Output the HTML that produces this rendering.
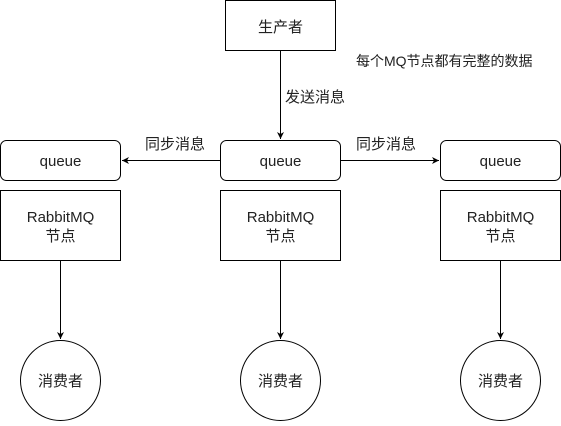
<!DOCTYPE html><html><head><style>body{margin:0;background:#fff}svg text{font-family:"Liberation Sans","Noto Sans CJK SC",sans-serif;font-size:15px;fill:#222}</style></head><body>
<svg width="561" height="421" xmlns="http://www.w3.org/2000/svg">
<defs><marker id="a" markerWidth="8" markerHeight="8" refX="7" refY="4" orient="auto" markerUnits="userSpaceOnUse"><path d="M0,0.5 L7,4 L0,7.5 L2,4 Z" fill="#000"/></marker></defs>
<g fill="none" stroke="#000" stroke-width="1">
<rect x="225.5" y="0.5" width="110" height="50"/>
<rect x="0.5" y="140.5" width="120" height="40" rx="6"/>
<rect x="220.5" y="140.5" width="120" height="40" rx="6"/>
<rect x="440.5" y="140.5" width="120" height="40" rx="6"/>
<rect x="0.5" y="190.5" width="120" height="70"/>
<rect x="220.5" y="190.5" width="120" height="70"/>
<rect x="440.5" y="190.5" width="120" height="70"/>
<circle cx="60.5" cy="380.5" r="40"/>
<circle cx="280.5" cy="380.5" r="40"/>
<circle cx="500.5" cy="380.5" r="40"/>
<line x1="280.5" y1="51" x2="280.5" y2="139" marker-end="url(#a)"/>
<line x1="220" y1="160.5" x2="122" y2="160.5" marker-end="url(#a)"/>
<line x1="341" y1="160.5" x2="439" y2="160.5" marker-end="url(#a)"/>
<line x1="60.5" y1="261" x2="60.5" y2="339" marker-end="url(#a)"/>
<line x1="280.5" y1="261" x2="280.5" y2="339" marker-end="url(#a)"/>
<line x1="500.5" y1="261" x2="500.5" y2="339" marker-end="url(#a)"/>
</g>
<g text-anchor="middle">
<text x="280.5" y="32">生产者</text>
<text x="60.5" y="166">queue</text><text x="280.5" y="166">queue</text><text x="500.5" y="166">queue</text>
<text x="60.5" y="222">RabbitMQ</text><text x="60.5" y="241">节点</text>
<text x="280.5" y="222">RabbitMQ</text><text x="280.5" y="241">节点</text>
<text x="500.5" y="222">RabbitMQ</text><text x="500.5" y="241">节点</text>
<text x="60.5" y="386">消费者</text><text x="280.5" y="386">消费者</text><text x="500.5" y="386">消费者</text>
</g>
<text x="285" y="102">发送消息</text>
<text x="145" y="149">同步消息</text>
<text x="356" y="149">同步消息</text>
<text x="356" y="66" style="font-size:14px">每个MQ节点都有完整的数据</text>
</svg></body></html>
